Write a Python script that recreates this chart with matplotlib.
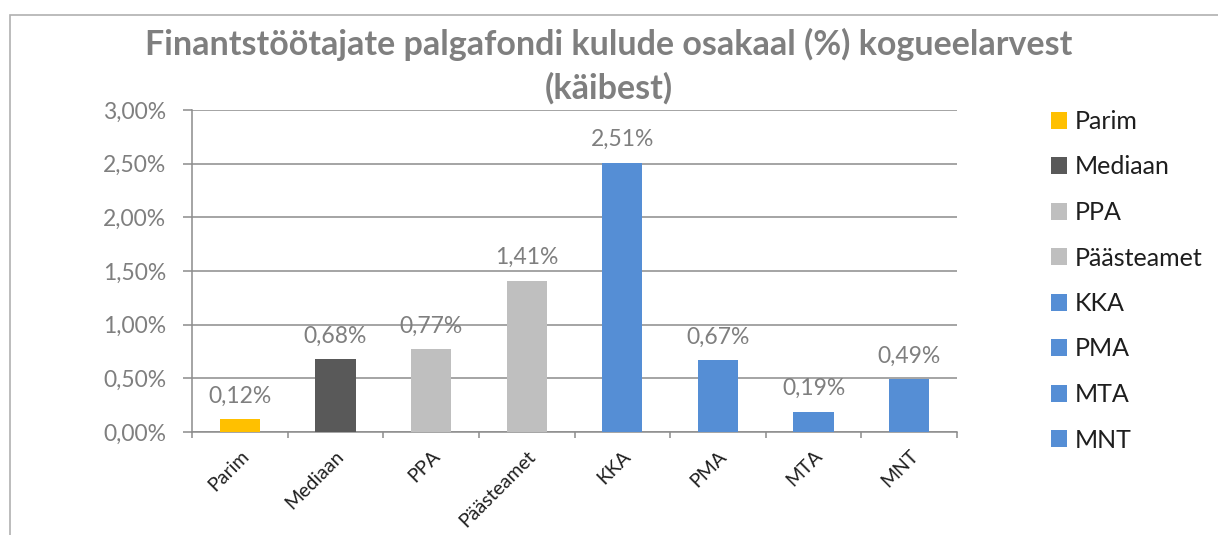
import matplotlib
matplotlib.use('Agg')
import matplotlib.pyplot as plt
from matplotlib.patches import Rectangle
from matplotlib.ticker import FuncFormatter

# ---- data ----
categories = ['Parim', 'Mediaan', 'PPA', 'Päästeamet', 'KKA', 'PMA', 'MTA', 'MNT']
values = [0.12, 0.68, 0.77, 1.41, 2.51, 0.67, 0.19, 0.49]   # percent
colors = ['#FFC000', '#595959', '#BFBFBF', '#BFBFBF',
          '#558ED5', '#558ED5', '#558ED5', '#558ED5']
yticks = [0.0, 0.5, 1.0, 1.5, 2.0, 2.5, 3.0]
title = 'Finantstöötajate palgafondi kulude osakaal (%) kogueelarvest\n(käibest)'

def pct(v):
    return f'{v:.2f}%'.replace('.', ',')

plt.rcParams['font.family'] = ['Lato', 'DejaVu Sans']

W, H = 1218, 535
fig = plt.figure(figsize=(W / 100, H / 100), dpi=100)

# outer chart frame (only top and left edges visible)
fig.patches.append(Rectangle((10 / W, -0.1), 1.2, 1 - 15 / H + 0.1,
                             transform=fig.transFigure, fill=False,
                             edgecolor='#b0b0b0', lw=1.2))

ax = fig.add_axes([192 / W, 1 - 432 / H, (957 - 192) / W, (432 - 110) / H])
x = list(range(len(categories)))
bars = ax.bar(x, values, width=0.42, color=colors, zorder=3)

ax.set_xlim(-0.5, len(categories) - 0.5)
ax.set_ylim(0, 3)
ax.set_yticks(yticks)
ax.yaxis.set_major_formatter(FuncFormatter(lambda v, p: pct(v)))
ax.yaxis.grid(True, color='#8c8c8c', lw=1.1, zorder=0)
ax.set_axisbelow(True)
for s in ['top', 'right']:
    ax.spines[s].set_visible(False)
for s in ['left', 'bottom']:
    ax.spines[s].set_color('#8c8c8c')
    ax.spines[s].set_linewidth(1.1)

ax.tick_params(axis='y', length=6.5, width=1.1, color='#8c8c8c',
               labelcolor='#7f7f7f', labelsize=16.5, pad=12)
ax.set_xticks(x)
ax.set_xticklabels(categories, rotation=45, ha='right', rotation_mode='anchor',
                   fontsize=14, color='#1e1e1e')
ax.tick_params(axis='x', which='major', length=0, pad=11)
ax.set_xticks([i - 0.5 for i in range(len(categories) + 1)], minor=True)
ax.tick_params(axis='x', which='minor', length=4.5, width=1.1, color='#8c8c8c')

ax.bar_label(bars, labels=[pct(v) for v in values], padding=9,
             color='#7f7f7f', fontsize=16.5)

fig.text(609 / W, 1 - 66 / H, title, ha='center', va='center',
         fontsize=24.5, fontweight='bold', color='#7f7f7f', linespacing=1.4)

ax.legend(bars, categories, loc='upper left',
          bbox_to_anchor=(1051 / W, 1 - 110 / H), bbox_transform=fig.transFigure,
          frameon=False, fontsize=18, handlelength=0.65, handleheight=0.65,
          handletextpad=0.3, labelspacing=0.9, borderpad=0, borderaxespad=0,
          labelcolor='#1e1e1e')

fig.savefig('out.png', dpi=100)
